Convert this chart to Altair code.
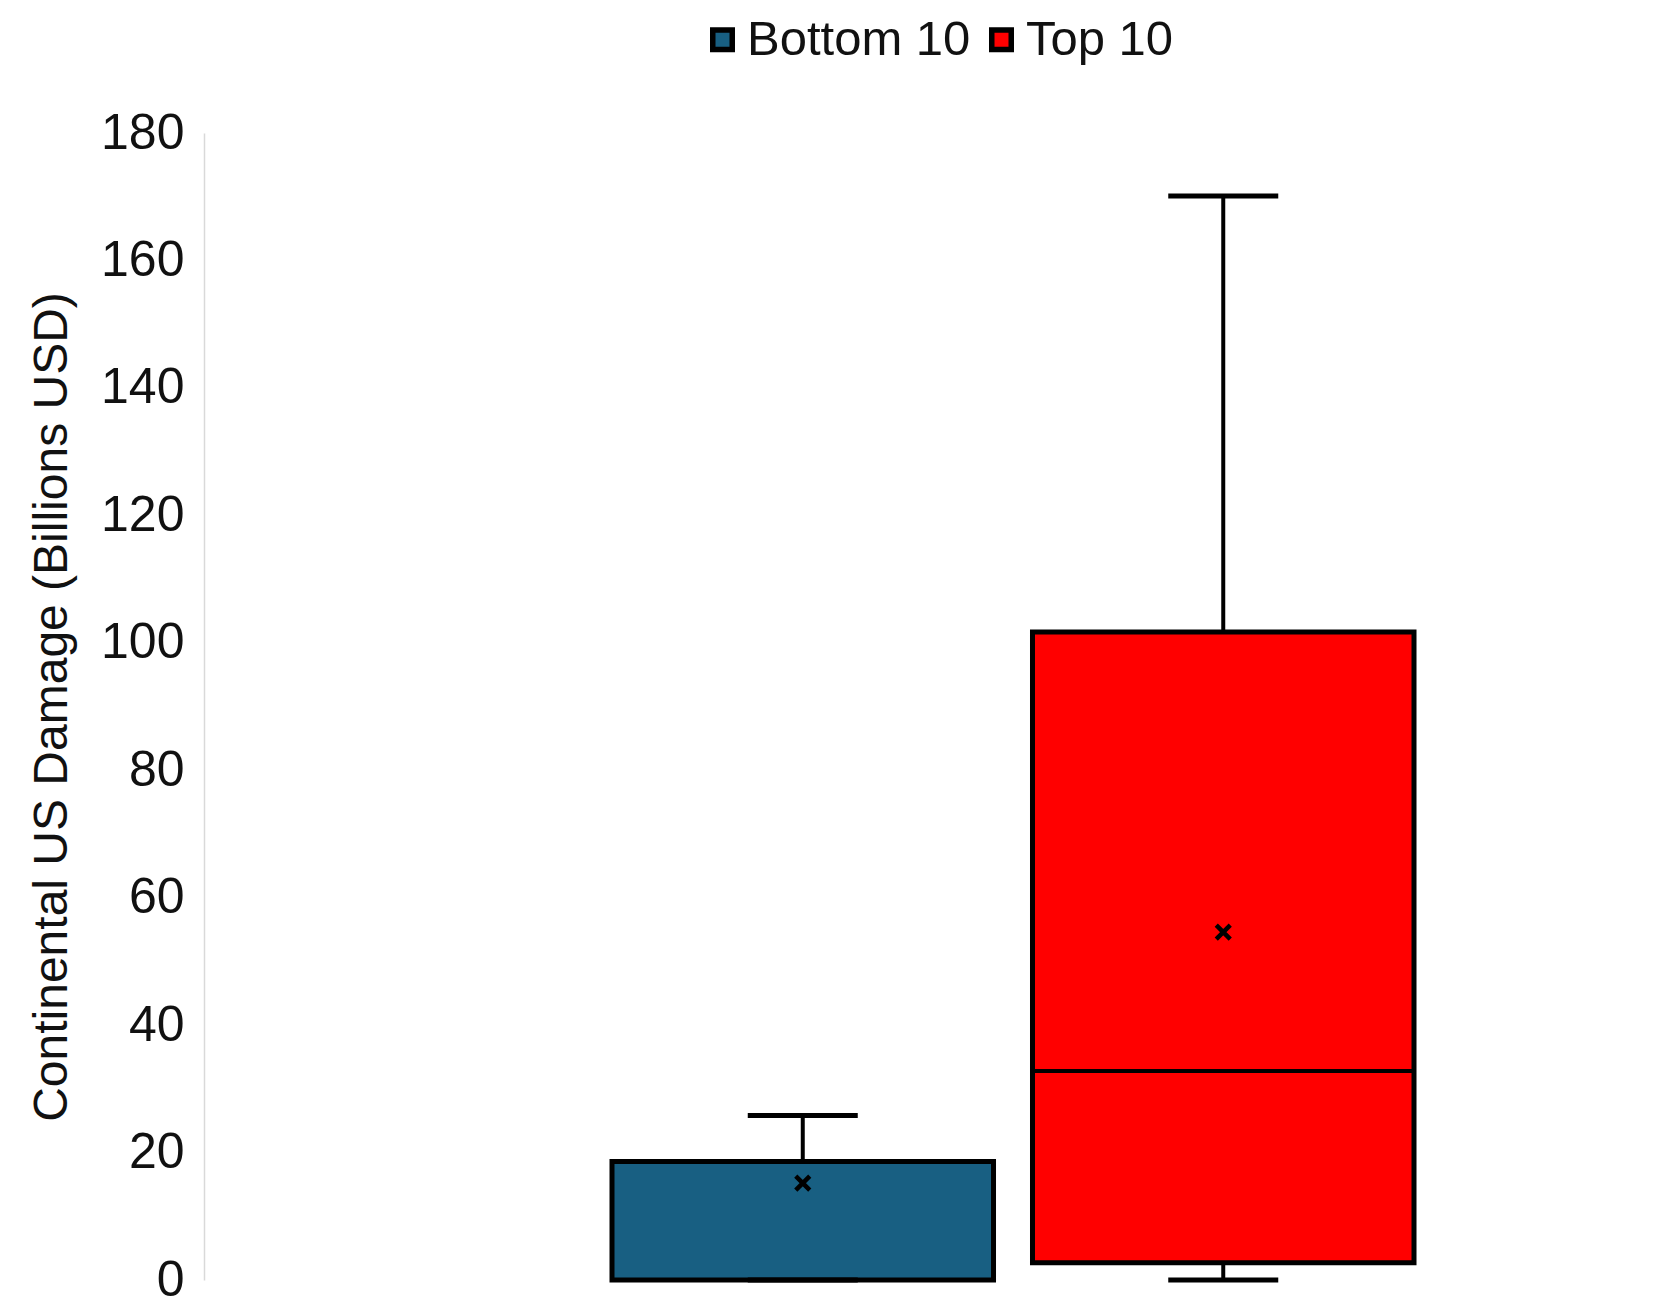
import altair as alt
import pandas as pd

# ---- data ----
groups = ["Bottom 10", "Top 10"]
mins = [0.0, 0.0]
q1s = [0.0, 2.7]
medians = [0.0, 32.8]
q3s = [18.6, 101.7]
maxs = [25.8, 170.1]
means = [15.2, 54.6]
colors = ["#185f82", "#ff0000"]
y_ticks = [0, 20, 40, 60, 80, 100, 120, 140, 160, 180]
y_title = "Continental US Damage (Billions USD)"

df = pd.DataFrame({
    "group": groups, "min": mins, "q1": q1s, "median": medians,
    "q3": q3s, "max": maxs, "mean": means,
})

FONT = "Liberation Sans"
TXT = "#111111"
W, H = 1452, 1147

xscale = alt.Scale(type="band", domain=groups, paddingInner=0.0927,
                   paddingOuter=0.7729, align=0.6277, round=False)
x = alt.X("group:N", scale=xscale, axis=None)

yscale = alt.Scale(domain=[0, 180], nice=False, zero=True)
yaxis = alt.Axis(values=y_ticks, ticks=False, grid=False, domain=True,
                 domainColor="#d9d9d9", domainWidth=1.5,
                 labelFont=FONT, labelFontSize=50, labelColor=TXT, labelPadding=20,
                 titleFont=FONT, titleFontSize=48, titleFontWeight="normal",
                 titleColor=TXT, titleAngle=270, titleAlign="center",
                 titleBaseline="middle", titleX=-152, titleY=H / 2)


def yenc(field):
    return alt.Y(field, type="quantitative", scale=yscale, axis=yaxis, title=y_title)


base = alt.Chart(df)

lower = base.mark_rule(color="black", strokeWidth=4).encode(
    x=x, y=yenc("min"), y2="q1:Q")
upper = base.mark_rule(color="black", strokeWidth=4).encode(
    x=x, y=yenc("q3"), y2="max:Q")

box = base.mark_bar(stroke="black", strokeWidth=5, opacity=1, strokeJoin="miter").encode(
    x=x, y=yenc("q1"), y2="q3:Q",
    color=alt.Color("group:N", scale=alt.Scale(domain=groups, range=colors),
                    legend=alt.Legend(title=None, orient="none", legendX=494, legendY=-118,
                                      direction="horizontal", symbolType="square",
                                      symbolSize=380, symbolStrokeColor="black",
                                      symbolStrokeWidth=5.5, symbolOpacity=1,
                                      labelFont=FONT, labelFontSize=49, labelColor=TXT,
                                      labelLimit=0, labelOffset=0, columnPadding=6,
                                      padding=0)))

median = base.mark_tick(color="black", thickness=4, size=381, opacity=1).encode(
    x=x, y=yenc("median"))
cap_min = base.mark_tick(color="black", thickness=5, size=110, opacity=1).encode(
    x=x, y=yenc("min"))
cap_max = base.mark_tick(color="black", thickness=5, size=110, opacity=1).encode(
    x=x, y=yenc("max"))
mean = base.mark_point(shape="M-1,-1L1,1M1,-1L-1,1", filled=False, stroke="black",
                       strokeWidth=4.5, size=196, opacity=1).encode(
    x=x, y=yenc("mean"))

chart = alt.layer(lower, upper, box, median, cap_min, cap_max, mean).properties(
    width=W, height=H,
    autosize=alt.AutoSizeParams(type="none"),
    padding={"left": 196, "top": 125, "right": 0, "bottom": 30},
    background="white",
).configure_view(stroke=None)

chart.save("out.html", embed_options={"renderer": "svg", "actions": False})
